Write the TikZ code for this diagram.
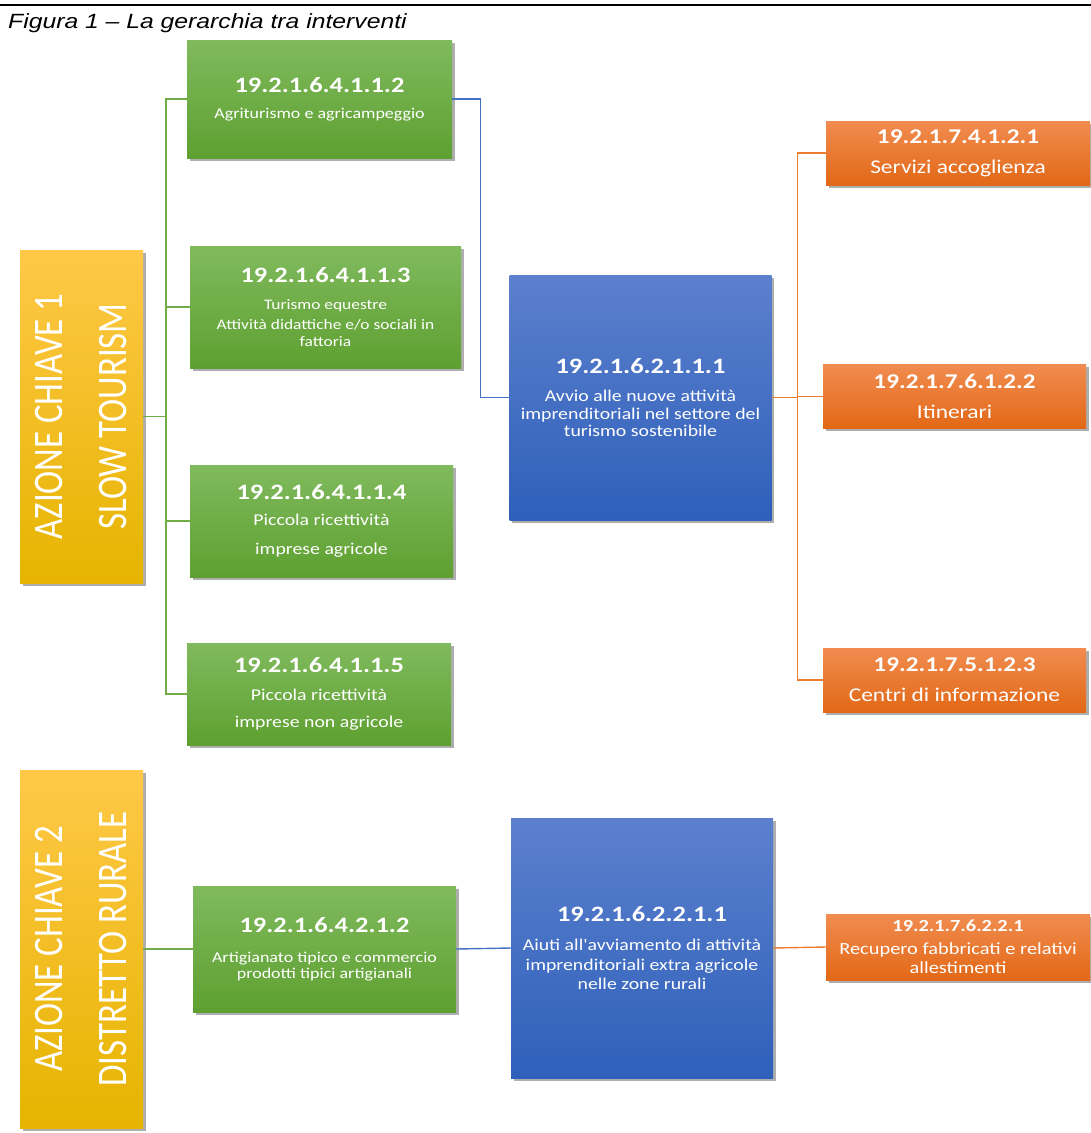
\documentclass[tikz,border=0pt]{standalone}
\usepackage{fontspec}
\setmainfont{Carlito}[FakeStretch=1.2, Ligatures=TeXOff]
\newfontfamily\keyfont{Carlito}[FakeStretch=0.83]
\newfontfamily\capfont{Liberation Sans}[FakeStretch=1.2]
\usetikzlibrary{shadows,positioning}
\definecolor{greentop}{RGB}{128,186,94}
\definecolor{greenbot}{RGB}{94,160,48}
\definecolor{bluetop}{RGB}{92,128,205}
\definecolor{bluebot}{RGB}{46,96,186}
\definecolor{orangetop}{RGB}{241,140,80}
\definecolor{orangebot}{RGB}{226,104,22}
\definecolor{yellowtop}{RGB}{255,200,72}
\definecolor{yellowmid}{RGB}{255,194,10}
\definecolor{yellowbot}{RGB}{230,180,0}
\definecolor{greenln}{RGB}{112,173,71}
\definecolor{blueln}{RGB}{68,114,196}
\definecolor{orangeln}{RGB}{237,125,49}
\newcommand{\codenum}[2]{{\fontsize{#1}{#1}\selectfont\bfseries #2}}

\begin{document}
\begin{tikzpicture}[x=1pt, y=-1pt,
        box/.style={inner sep=2pt, align=center, text=white,
            drop shadow={shadow xshift=2.5pt, shadow yshift=-2.5pt, opacity=.45, fill=black!70}},
        greenbox/.style={box, top color=greentop, bottom color=greenbot},
        bluebox/.style={box, top color=bluetop, bottom color=bluebot, minimum width=262},
        orangebox/.style={box, top color=orangetop, bottom color=orangebot, minimum width=264, minimum height=64},
        keybox/.style={box, top color=yellowtop, middle color=yellowmid, bottom color=yellowbot, rotate=90,
            minimum height=123, font=\keyfont\fontsize{42}{64}\selectfont},
        greenline/.style={draw=greenln, line width=1.4pt},
        blueline/.style={draw=blueln, line width=1.4pt},
        orangeline/.style={draw=orangeln, line width=1.4pt}
    ]
        \useasboundingbox (0,0) rectangle (1091,1133);

        % Caption
        \draw[line width=1.2pt] (0,5) -- (1091,5);
        \node[anchor=base west, inner sep=0pt, font=\capfont\itshape\fontsize{20.6}{24}\selectfont] (caption) at (8,28)
            {Figura 1 – La gerarchia tra interventi};

        % Key actions (rotated, so .south is the right side)
        \node[keybox, minimum width=333] (az1) at (81.5,416.5) {AZIONE CHIAVE 1\\SLOW TOURISM};
        \node[keybox, minimum width=358] (az2) at (81.5,949) {AZIONE CHIAVE 2\\DISTRETTO RURALE};

        % Green interventions
        \node[greenbox, minimum width=265, minimum height=118, font=\fontsize{15}{17}\selectfont] (g1) at (319.5,99)
            {\codenum{22}{19.2.1.6.4.1.1.2}\\[9pt]Agriturismo e agricampeggio};
        \node[greenbox, minimum width=271, minimum height=122, font=\fontsize{14.5}{16.5}\selectfont] (g2) at (325.5,307)
            {\codenum{22}{19.2.1.6.4.1.1.3}\\[10pt]Turismo equestre\\[4pt]Attività didattiche e/o sociali in\\fattoria};
        \node[greenbox, minimum width=263, minimum height=112, font=\fontsize{16.5}{29}\selectfont] (g3) at (321.5,521)
            {\codenum{22}{19.2.1.6.4.1.1.4}\\[-3pt]Piccola ricettività\\imprese agricole};
        \node[greenbox, minimum width=264, minimum height=102, font=\fontsize{16.5}{27}\selectfont] (g4) at (319,694)
            {\codenum{22}{19.2.1.6.4.1.1.5}\\[1pt]Piccola ricettività\\imprese non agricole};
        \node[greenbox, minimum width=263, minimum height=126, font=\fontsize{15}{16}\selectfont] (g5) at (324.5,949)
            {\codenum{22}{19.2.1.6.4.2.1.2}\\[14pt]Artigianato tipico e commercio\\prodotti tipici artigianali};

        % Blue measures
        \node[bluebox, minimum height=245, font=\fontsize{16.5}{17.5}\selectfont] (b1) at (640.5,397.5)
            {\codenum{22}{19.2.1.6.2.1.1.1}\\[11pt]Avvio alle nuove attività\\imprenditoriali nel settore del\\turismo sostenibile};
        \node[bluebox, minimum height=260, font=\fontsize{16.5}{19.5}\selectfont] (b2) at (642,948)
            {\codenum{22}{19.2.1.6.2.2.1.1}\\[10pt]Aiuti all'avviamento di attività\\imprenditoriali extra agricole\\nelle zone rurali};

        % Orange operations
        \node[orangebox, font=\fontsize{19.5}{23}\selectfont] (o1) at (958,153)
            {\codenum{21}{19.2.1.7.4.1.2.1}\\[7pt]Servizi accoglienza};
        \node[orangebox, minimum width=263, font=\fontsize{19.5}{23}\selectfont] (o2) at (954.5,396.5)
            {\codenum{21}{19.2.1.7.6.1.2.2}\\[7pt]Itinerari};
        \node[orangebox, minimum width=263, font=\fontsize{19.5}{23}\selectfont] (o3) at (954.5,680)
            {\codenum{21}{19.2.1.7.5.1.2.3}\\[7pt]Centri di informazione};
        \node[orangebox, minimum height=66, font=\fontsize{17}{19}\selectfont] (o4) at (958,947)
            {\codenum{17}{19.2.1.7.6.2.2.1}\\[4pt]Recupero fabbricati e relativi\\allestimenti};

        % Connectors
        \coordinate (gt) at (166,0);
        \foreach \g in {g1,g2,g3,g4}
            \draw[greenline] (az1.south) -- (az1.south -| gt) |- (\g.west);
        \draw[blueline] (g1.east) -- ++(28,0) |- (b1.west);
        \foreach \o in {o1,o2,o3}
            \draw[orangeline] (b1.east) -- ++(26,0) |- (\o.west);
        \draw[greenline] (az2.south) -- (g5.west);
        \draw[blueline] (g5.east) -- (b2.west);
        \draw[orangeline] (b2.east) -- (o4.west);
    \end{tikzpicture}
\end{document}
